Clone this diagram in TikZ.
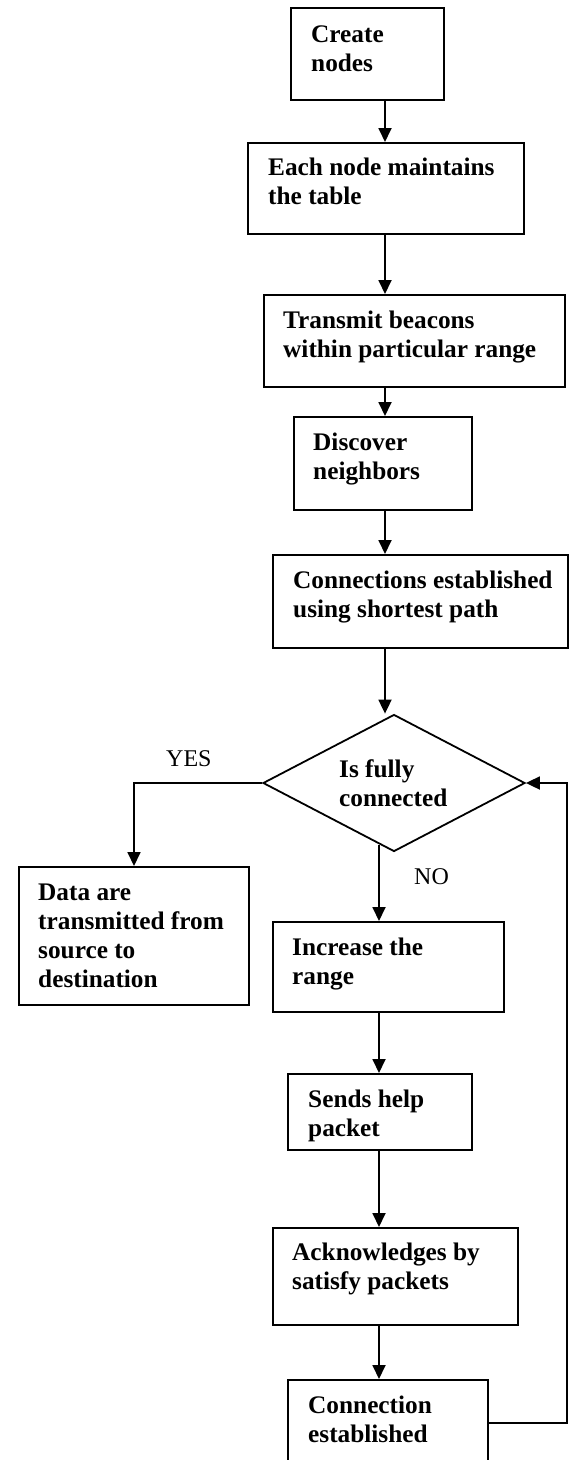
\documentclass[tikz,border=0pt]{standalone}
\usepackage{fontspec}
\setmainfont{Liberation Serif}
\usetikzlibrary{shapes.geometric,arrows.meta}
\begin{document}
\begin{tikzpicture}[x=1pt,y=-1pt,
  box/.style={draw,line width=2pt,rectangle,inner sep=0pt,anchor=north west},
  decision/.style={draw,line width=1.8pt,diamond,inner sep=0pt},
  lbl/.style={anchor=base west,inner sep=0pt,font=\fontsize{25.3}{29}\selectfont\bfseries},
  yn/.style={anchor=base west,inner sep=0pt,font=\fontsize{24}{29}\selectfont},
  arr/.style={line width=1.8pt,-{Triangle[width=13pt,length=14pt]}},
  conn/.style={line width=1.8pt}]
\path[use as bounding box] (0,0) rectangle (571,1460);
\clip (0,0) rectangle (571,1460);
\fill[white] (0,0) rectangle (571,1460);
% column coordinates
\coordinate (colA) at (385,0);
\coordinate (colB) at (379,0);
\coordinate (ret) at (567,0);
% boxes
\node[box,minimum width=153pt,minimum height=92pt] (B1) at (290,7) {};
\node[box,minimum width=276pt,minimum height=91pt] (B2) at (247,142) {};
\node[box,minimum width=301pt,minimum height=92pt] (B3) at (263,294) {};
\node[box,minimum width=178pt,minimum height=93pt] (B4) at (293,416) {};
\node[box,minimum width=295pt,minimum height=93pt] (B5) at (272,554) {};
\node[decision,minimum width=262pt,minimum height=137pt] (dia) at (394,783) {};
\node[box,minimum width=230pt,minimum height=138pt] (D) at (18,866) {};
\node[box,minimum width=231pt,minimum height=90pt] (B6) at (272,921) {};
\node[box,minimum width=184pt,minimum height=76pt] (B7) at (287,1073) {};
\node[box,minimum width=245pt,minimum height=97pt] (B8) at (272,1227) {};
\node[box,minimum width=200pt,minimum height=86pt] (B9) at (287,1379) {};
% texts
\node[lbl] (t1) at ([shift={(21,35)}]B1.north west) {\begin{tabular}[t]{@{}l@{}}Create\\nodes\end{tabular}};
\node[lbl] (t2) at ([shift={(21,33)}]B2.north west) {\begin{tabular}[t]{@{}l@{}}Each node maintains\\the table\end{tabular}};
\node[lbl] (t3) at ([shift={(20,34)}]B3.north west) {\begin{tabular}[t]{@{}l@{}}Transmit beacons\\within particular range\end{tabular}};
\node[lbl] (t4) at ([shift={(20,34)}]B4.north west) {\begin{tabular}[t]{@{}l@{}}Discover\\neighbors\end{tabular}};
\node[lbl] (t5) at ([shift={(21,34)}]B5.north west) {\begin{tabular}[t]{@{}l@{}}Connections established\\using shortest path\end{tabular}};
\node[lbl] (td) at ([shift={(-55,-6)}]dia.center) {\begin{tabular}[t]{@{}l@{}}Is fully\\connected\end{tabular}};
\node[lbl] (tD) at ([shift={(20,34)}]D.north west) {\begin{tabular}[t]{@{}l@{}}Data are\\transmitted from\\source to\\destination\end{tabular}};
\node[lbl] (t6) at ([shift={(20,34)}]B6.north west) {\begin{tabular}[t]{@{}l@{}}Increase the\\range\end{tabular}};
\node[lbl] (t7) at ([shift={(21,34)}]B7.north west) {\begin{tabular}[t]{@{}l@{}}Sends help\\packet\end{tabular}};
\node[lbl] (t8) at ([shift={(20,33)}]B8.north west) {\begin{tabular}[t]{@{}l@{}}Acknowledges by\\satisfy packets\end{tabular}};
\node[lbl] (t9) at ([shift={(21,34)}]B9.north west) {\begin{tabular}[t]{@{}l@{}}Connection\\established\end{tabular}};
% labels
\node[yn] (yes) at (166,766) {YES};
\node[yn] (no) at (414,884) {NO};
% connectors
\draw[arr] (B1.south -| colA) -- (B2.north -| colA);
\draw[arr] (B2.south -| colA) -- (B3.north -| colA);
\draw[arr] (B3.south -| colA) -- (B4.north -| colA);
\draw[arr] (B4.south -| colA) -- (B5.north -| colA);
\draw[arr] (B5.south -| colA) -- (dia.north -| colA);
\draw[arr] (dia.west) -| (D.north);
\draw[arr] ([yshift=7pt]dia.south -| colB) -- (B6.north -| colB);
\draw[arr] (B6.south -| colB) -- (B7.north -| colB);
\draw[arr] (B7.south -| colB) -- (B8.north -| colB);
\draw[arr] (B8.south -| colB) -- (B9.north -| colB);
\draw[arr] (B9.east) -- (B9.east -| ret) |- (dia.east);
\end{tikzpicture}
\end{document}
